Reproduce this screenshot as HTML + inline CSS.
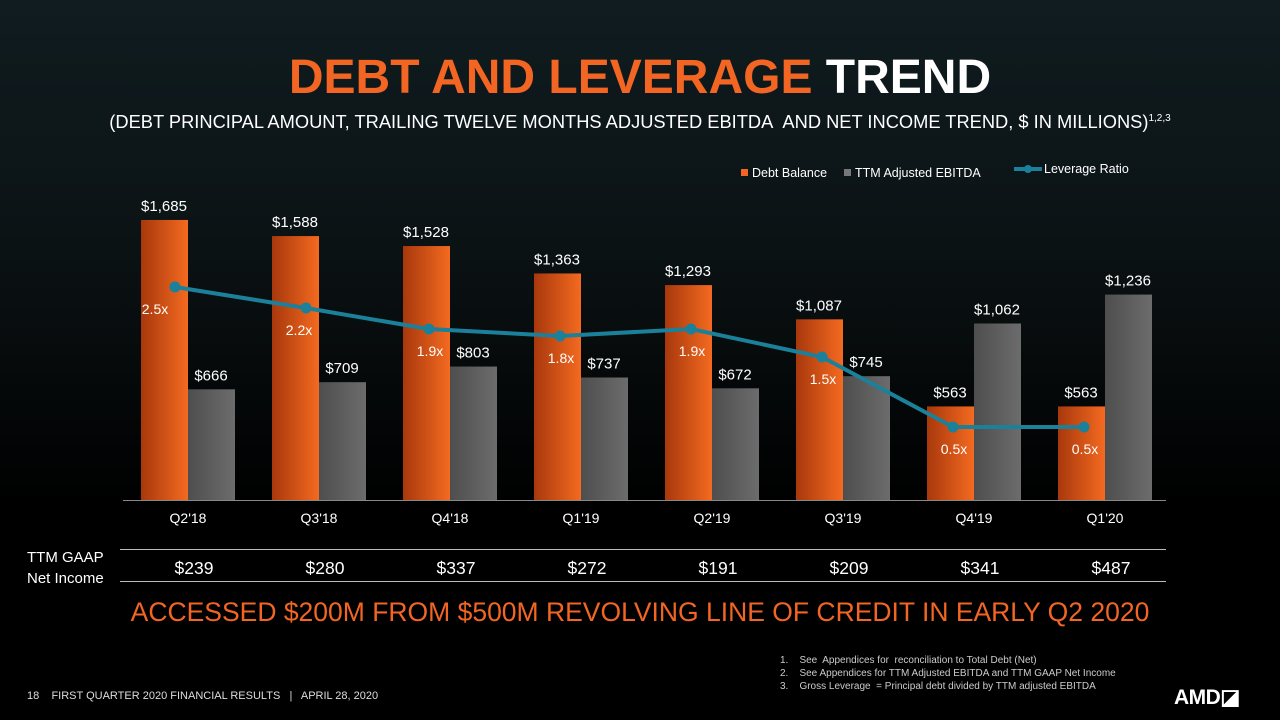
<!DOCTYPE html>
<html><head><meta charset="utf-8"><style>
body{margin:0;width:1280px;height:720px;overflow:hidden;background:#000;font-family:"Liberation Sans",sans-serif;color:#fff}
#root{position:relative;width:1280px;height:720px;background:linear-gradient(180deg,#101c20 0%,#0b1214 35%,#000 70%)}
.t{position:absolute;white-space:nowrap}
</style></head><body><div id="root">
<div class="t" style="left:0;width:1280px;text-align:center;top:50px;font-size:48px;font-weight:bold;color:#f26522">DEBT AND LEVERAGE <span style="color:#fff">TREND</span></div>
<div class="t" style="left:0;width:1280px;text-align:center;top:111px;font-size:18.3px">(DEBT PRINCIPAL AMOUNT, TRAILING TWELVE MONTHS ADJUSTED EBITDA&nbsp; AND NET INCOME TREND, $ IN MILLIONS)<sup style="font-size:10px">1,2,3</sup></div>
<svg id="chart" width="1280" height="720" style="position:absolute;left:0;top:0">
<defs>
<linearGradient id="og" x1="0" x2="1"><stop offset="0" stop-color="#a8380c"/><stop offset="1" stop-color="#f46a20"/></linearGradient>
<linearGradient id="gg" x1="0" x2="1"><stop offset="0" stop-color="#4e4e4e"/><stop offset="1" stop-color="#6c6c6c"/></linearGradient>
</defs>
<g id="g"></g>
</svg>
<div class="t" style="left:27px;top:547px;font-size:15px;line-height:21px">TTM GAAP<br>Net Income</div>
<div class="t" style="left:0;width:1280px;text-align:center;top:597px;font-size:26.5px;color:#f26522">ACCESSED $200M FROM $500M REVOLVING LINE OF CREDIT IN EARLY Q2 2020</div>
<div class="t" style="left:780px;top:654px;font-size:10px;line-height:13px;color:#ccc">1.&nbsp;&nbsp;&nbsp; See&nbsp; Appendices for&nbsp; reconciliation to Total Debt (Net)<br>2.&nbsp;&nbsp;&nbsp; See Appendices for TTM Adjusted EBITDA and TTM GAAP Net Income<br>3.&nbsp;&nbsp;&nbsp; Gross Leverage&nbsp; = Principal debt divided by TTM adjusted EBITDA</div>
<div class="t" style="left:27px;top:690px;font-size:11px;color:#ddd">18&nbsp;&nbsp;&nbsp; FIRST QUARTER 2020 FINANCIAL RESULTS&nbsp;&nbsp; |&nbsp;&nbsp; APRIL 28, 2020</div>
<div class="t" style="left:1174px;top:685px;font-size:21px;font-weight:bold;letter-spacing:-0.5px">AMD◪</div>
</div>
<script>
const categories=["Q2'18","Q3'18","Q4'18","Q1'19","Q2'19","Q3'19","Q4'19","Q1'20"];
const debt=[1685,1588,1528,1363,1293,1087,563,563];
const ebitda=[666,709,803,737,672,745,1062,1236];
const leverage=[2.5,2.2,1.9,1.8,1.9,1.5,0.5,0.5];
const netIncome=[239,280,337,272,191,209,341,487];
const ns="http://www.w3.org/2000/svg",g=document.getElementById('g');
const cx=i=>188+i*131, yb=v=>500-v*0.1662, yl=v=>357-(v-1.5)*70;
function el(t,a){const e=document.createElementNS(ns,t);for(const k in a)e.setAttribute(k,a[k]);g.appendChild(e);return e;}
function tx(x,y,s,sz,anc,fill){const e=el('text',{x:x,y:y,'font-size':sz,'text-anchor':anc||'middle',fill:fill||'#fff','font-family':'Liberation Sans, sans-serif'});e.textContent=s;return e;}
const fmt=v=>'$'+v.toLocaleString('en-US');
let e=el('rect',{x:741,y:169,width:7,height:7,fill:'#f26522'});
e=tx(752,177,'Debt Balance',12.5,'start');
e=el('rect',{x:844,y:169,width:7,height:7,fill:'#777'});
e=tx(855,177,'TTM Adjusted EBITDA',12.5,'start');
e=el('line',{x1:1014,y1:169,x2:1042,y2:169,stroke:'#1b8099','stroke-width':4});
e=el('circle',{cx:1028,cy:169,r:4,fill:'#1b8099'});
e=tx(1044,173,'Leverage Ratio',12.5,'start');
categories.forEach((c,i)=>{
 const x=cx(i);
 let r=el('rect',{x:x-47,y:yb(debt[i]),width:47,height:500-yb(debt[i]),fill:'url(#og)'});
 
 let t=tx(x-24,yb(debt[i])-9,fmt(debt[i]),15);
 r=el('rect',{x:x,y:yb(ebitda[i]),width:47,height:500-yb(ebitda[i]),fill:'url(#gg)'});
 
 t=tx(x+23,yb(ebitda[i])-9,fmt(ebitda[i]),15);
 
 t=tx(x,523,c,14);
 t=tx(x+6,574,fmt(netIncome[i]),17.5);
});
let a=el('line',{x1:123,y1:500.5,x2:1166,y2:500.5,stroke:'#888','stroke-width':1});
a=el('line',{x1:120,y1:549.5,x2:1166,y2:549.5,stroke:'#bbb','stroke-width':1});
a=el('line',{x1:120,y1:581.5,x2:1166,y2:581.5,stroke:'#bbb','stroke-width':1});
const px=i=>cx(i)-(i<2?13:21);
let p=el('polyline',{points:leverage.map((v,i)=>px(i)+','+yl(v)).join(' '),fill:'none',stroke:'#1b8099','stroke-width':4});

leverage.forEach((v,i)=>{
 let c=el('circle',{cx:px(i),cy:yl(v),r:5.5,fill:'#1b8099'});
 let t=tx(cx(i)-(i===0?33:20),yl(v)+27,v.toFixed(1)+'x',14);
});
</script>
</body></html>
